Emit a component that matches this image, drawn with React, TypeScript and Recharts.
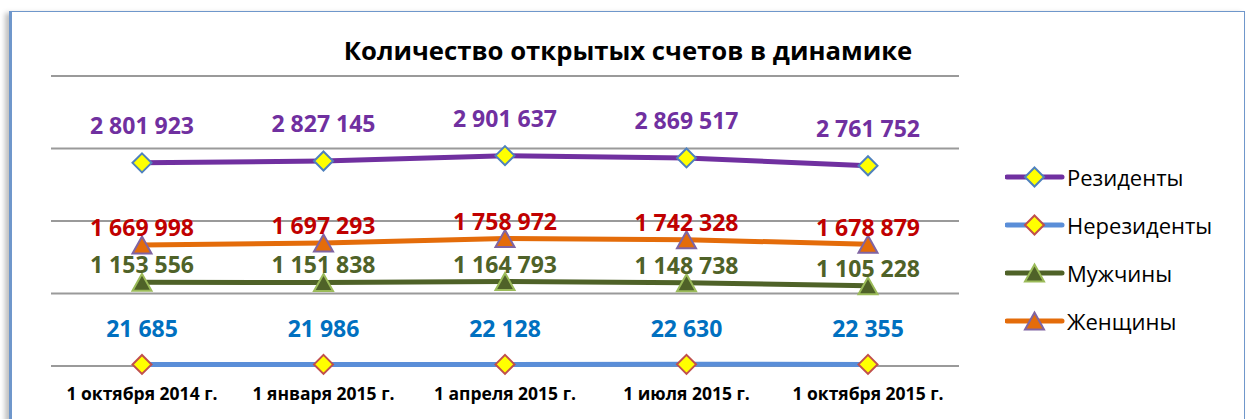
import React from 'react';
import { LineChart, Line, XAxis, YAxis, CartesianGrid, LabelList, Legend } from 'recharts';

const categories = ['1 октября 2014 г.', '1 января 2015 г.', '1 апреля 2015 г.', '1 июля 2015 г.', '1 октября 2015 г.'];
const residents = [2801923, 2827145, 2901637, 2869517, 2761752];
const nonResidents = [21685, 21986, 22128, 22630, 22355];
const men = [1153556, 1151838, 1164793, 1148738, 1105228];
const women = [1669998, 1697293, 1758972, 1742328, 1678879];
const yTicks = [0, 1000000, 2000000, 3000000, 4000000];

const data = categories.map((c, i) => ({
  cat: c,
  res: residents[i],
  nonres: nonResidents[i],
  men: men[i],
  women: women[i],
}));

const FONT = '"Open Sans", sans-serif';

const fmt = (v: number) => String(v).replace(/\B(?=(\d{3})+(?!\d))/g, ' ');

const series = [
  { key: 'res', name: 'Резиденты', line: '#7030A0', label: '#7030A0', shape: 'diamond', fill: '#FFFF00', stroke: '#4F81BD', off: 38 },
  { key: 'nonres', name: 'Нерезиденты', line: '#5A8ED8', label: '#0070C0', shape: 'diamond', fill: '#FFFF00', stroke: '#C0504D', off: 36 },
  { key: 'men', name: 'Мужчины', line: '#4F6228', label: '#4F6228', shape: 'triangle', fill: '#4F6228', stroke: '#9BBB59', off: 18 },
  { key: 'women', name: 'Женщины', line: '#E46C0A', label: '#C00000', shape: 'triangle', fill: '#E46C0A', stroke: '#8064A2', off: 17.5 },
];

const Marker = ({ cx, cy, shape, fill, stroke }: any) => {
  if (shape === 'diamond') {
    const r = 9.5;
    return <polygon points={`${cx},${cy - r} ${cx + r},${cy} ${cx},${cy + r} ${cx - r},${cy}`} fill={fill} stroke={stroke} strokeWidth={2} />;
  }
  const h = 17, w = 19;
  return <polygon points={`${cx},${cy - h / 2} ${cx + w / 2},${cy + h / 2} ${cx - w / 2},${cy + h / 2}`} fill={fill} stroke={stroke} strokeWidth={2} strokeLinejoin="miter" />;
};

const makeDot = (s: any) => (p: any) => (
  <Marker key={`${s.key}-${p.index}`} cx={p.cx} cy={p.cy} shape={s.shape} fill={s.fill} stroke={s.stroke} />
);

const makeLabel = (s: any) => (p: any) => (
  <text
    key={`${s.key}-l-${p.index}`}
    x={p.x}
    y={p.y - s.off}
    textAnchor="middle"
    dominantBaseline="central"
    fill={s.label}
    fontFamily={FONT}
    fontWeight={700}
    fontSize={23}
  >
    {fmt(p.value)}
  </text>
);

const Tick = (p: any) => (
  <text x={p.x} y={p.y + 27} textAnchor="middle" dominantBaseline="central" fill="#000" fontFamily={FONT} fontWeight={700} fontSize={17.5}>
    {p.payload.value}
  </text>
);

const LegendContent = () => (
  <div style={{ width: 240 }}>
    {series.map((s) => (
      <div key={s.key} style={{ display: 'flex', alignItems: 'center', height: 48 }}>
        <svg width={60} height={24} style={{ display: 'block' }}>
          <line x1={2} y1={12} x2={57} y2={12} stroke={s.line} strokeWidth={5} strokeLinecap="round" />
          <Marker cx={29.5} cy={12} shape={s.shape} fill={s.fill} stroke={s.stroke} />
        </svg>
        <span style={{ fontFamily: FONT, fontSize: 22, color: '#000', marginLeft: 2 }}>{s.name}</span>
      </div>
    ))}
  </div>
);

export default function App() {
  return (
    <div style={{ position: 'absolute', left: 0, top: 0, width: 1248, height: 419, overflow: 'hidden', background: '#fff' }}>
      <div
        style={{
          position: 'absolute',
          left: 9,
          top: 11,
          width: 1232,
          height: 430,
          border: '1.5px solid #6F97CB',
          borderLeft: '3px solid #6F97CB',
          boxShadow: '-4px 2px 5px rgba(0,0,0,0.25)',
          background: '#fff',
        }}
      />
      <div
        style={{
          position: 'absolute',
          left: 0,
          top: 33,
          width: 1256,
          textAlign: 'center',
          fontFamily: FONT,
          fontWeight: 700,
          fontSize: 25.7,
          color: '#000',
          lineHeight: '36px',
        }}
      >
        Количество открытых счетов в динамике
      </div>
      <div style={{ position: 'absolute', left: 0, top: 0 }}>
        <LineChart width={1248} height={419} data={data} margin={{ top: 76, right: 289, bottom: 23, left: 51 }}>
          <CartesianGrid horizontal vertical={false} stroke="#9A9A9A" strokeWidth={2} />
          <XAxis
            dataKey="cat"
            height={30}
            padding={{ left: 91, right: 91 }}
            axisLine={false}
            tickLine={false}
            tickSize={0}
            tickMargin={0}
            interval={0}
            tick={<Tick />}
          />
          <YAxis hide width={0} domain={[0, 4000000]} ticks={yTicks} />
          <Legend
            layout="vertical"
            align="center"
            verticalAlign="middle"
            wrapperStyle={{ position: 'absolute', left: 1005, top: 153, width: 240 }}
            content={<LegendContent />}
          />
          {series.map((s) => (
            <Line
              key={s.key}
              dataKey={s.key}
              name={s.name}
              stroke={s.line}
              strokeWidth={5}
              isAnimationActive={false}
              dot={makeDot(s)}
              activeDot={false}
            >
              <LabelList dataKey={s.key} content={makeLabel(s)} />
            </Line>
          ))}
        </LineChart>
      </div>
    </div>
  );
}
